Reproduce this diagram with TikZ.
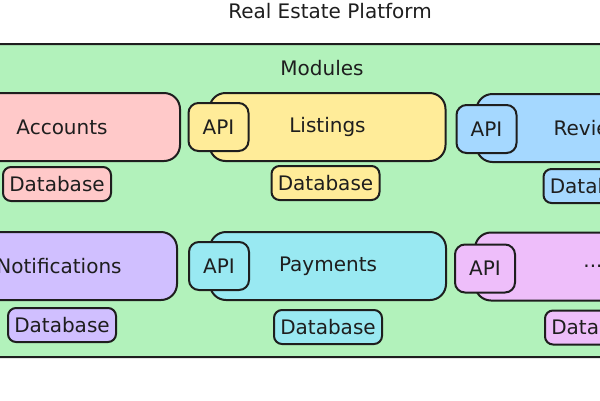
\documentclass[tikz,border=0pt]{standalone}
\usepackage{fontspec}
\setmainfont{DejaVu Sans}
\usepackage{xcolor}
\usepackage{tikz}
\usetikzlibrary{positioning}
\definecolor{bggreen}{RGB}{178,242,187}
\definecolor{lightred}{RGB}{255,201,201}
\definecolor{lightyellow}{RGB}{255,236,153}
\definecolor{lightblue}{RGB}{165,216,255}
\definecolor{lightviolet}{RGB}{208,191,255}
\definecolor{lightcyan}{RGB}{153,233,242}
\definecolor{lightgrape}{RGB}{238,190,250}
\definecolor{ink}{RGB}{30,30,30}
\tikzset{
  txt/.style={text=ink,font=\fontsize{20}{24}\selectfont},
  module/.style={draw=ink,line width=2pt,rounded corners=16pt,minimum width=236pt,
    minimum height=68pt,txt},
  api/.style={draw=ink,line width=2pt,rounded corners=10pt,minimum width=60pt,
    minimum height=48pt,txt},
  store/.style={draw=ink,line width=2pt,rounded corners=8pt,minimum width=108pt,
    minimum height=34pt,txt}
}

\begin{document}
\begin{tikzpicture}[x=1pt,y=-1pt,node distance=5pt]
  \useasboundingbox (0,0) rectangle (600,400);
  \clip (0,0) rectangle (600,400);

  \node[txt,anchor=base] (title) at (330,18) {Real Estate Platform};
  \node[draw=ink,line width=2pt,fill=bggreen,rounded corners=4pt,minimum width=640pt,
    minimum height=313pt] (platform) at (300,200.5) {};
  \node[txt,anchor=base] (modlabel) at (322,75) {Modules};

  % first row
  \node[module,fill=lightred] (accounts) at (62,127) {Accounts};
  \node[module,fill=lightyellow] (listings) at (327.5,127) {Listings};
  \node[module,fill=lightblue] (reviews) at (594.5,128) {Reviews};
  \node[api,fill=lightyellow] (listingsapi) at ([xshift=10pt]listings.west) {API};
  \node[api,fill=lightblue] (reviewsapi) at ([xshift=11pt,yshift=-1pt]reviews.west) {API};
  \node[store,fill=lightred,below=4pt of accounts,xshift=-5pt] (accountsdb) {Database};
  \node[store,fill=lightyellow,below=3pt of listings,xshift=-2pt] (listingsdb) {Database};
  \node[store,fill=lightblue,below=of reviews,xshift=3pt] (reviewsdb) {Database};

  % second row
  \node[module,fill=lightviolet] (notifications) at (59,266) {Notifications};
  \node[module,fill=lightcyan] (payments) at (328,266) {Payments};
  \node[module,fill=lightgrape] (more) at (593,266.5) {...};
  \node[api,fill=lightcyan] (paymentsapi) at ([xshift=10pt]payments.west) {API};
  \node[api,fill=lightgrape] (moreapi) at ([xshift=11pt,yshift=-2pt]more.west) {API};
  \node[store,fill=lightviolet,below=6pt of notifications,xshift=3pt] (notificationsdb) {Database};
  \node[store,fill=lightcyan,below=8pt of payments] (paymentsdb) {Database};
  \node[store,fill=lightgrape,below=8pt of more,xshift=6pt] (moredb) {Database};
\end{tikzpicture}
\end{document}
